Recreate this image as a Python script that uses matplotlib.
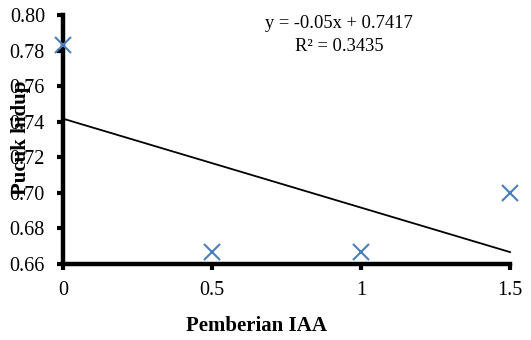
import matplotlib
matplotlib.use("Agg")
import matplotlib.pyplot as plt
import numpy as np

plt.rcParams['font.family'] = ['Liberation Serif', 'DejaVu Serif']

iaa = [0, 0.5, 1, 1.5]
pucuk_hidup = [0.783, 0.6667, 0.6667, 0.70]
slope, intercept = -0.05, 0.7417
r2 = 0.3435
x_ticks = [0, 0.5, 1, 1.5]
x_tick_labels = ['0', '0.5', '1', '1.5']
y_ticks = [0.66, 0.68, 0.70, 0.72, 0.74, 0.76, 0.78, 0.80]

fig = plt.figure(figsize=(5.31, 3.40), dpi=100)
ax = fig.add_axes([0.1186, 0.2235, 0.8419, 0.7325])

xs = np.array([iaa[0], iaa[-1]])
ax.plot(xs, slope * xs + intercept, color='black', lw=1.3, clip_on=False, zorder=2)
ax.plot(iaa, pucuk_hidup, linestyle='none', marker='x', markersize=12,
        markeredgewidth=1.5, color='#4a7ebb', clip_on=False, zorder=3)

ax.set_xlim(0, 1.5)
ax.set_ylim(0.66, 0.80)
ax.set_xticks(x_ticks)
ax.set_xticklabels(x_tick_labels)
ax.set_yticks(y_ticks)
ax.set_yticklabels([f'{v:.2f}' for v in y_ticks])

for s in ['top', 'right']:
    ax.spines[s].set_visible(False)
for s in ['left', 'bottom']:
    ax.spines[s].set_linewidth(3.2)
    ax.spines[s].set_zorder(1)
ax.tick_params(axis='both', direction='out', length=4, width=3, labelsize=14.5, colors='black')
ax.tick_params(axis='x', pad=8)
ax.tick_params(axis='y', pad=9)

eq_x = (339 - 63) / 447
ax.text(eq_x, 1 + (15 - 24) / 249, f'y = {slope:.2f}x + {intercept}', transform=ax.transAxes,
        ha='center', va='center', fontsize=13.3)
ax.text(eq_x, 1 + (15 - 47) / 249, f'R² = {r2}', transform=ax.transAxes,
        ha='center', va='center', fontsize=13.3)

fig.text(21 / 531, 1 - 138 / 340, 'Pucuk hidup', rotation=90, ha='center', va='center',
         fontsize=15, fontweight='bold')
fig.text(257 / 531, 1 - 326 / 340, 'Pemberian IAA', ha='center', va='center',
         fontsize=15, fontweight='bold')

fig.savefig('out.png', dpi=100)
